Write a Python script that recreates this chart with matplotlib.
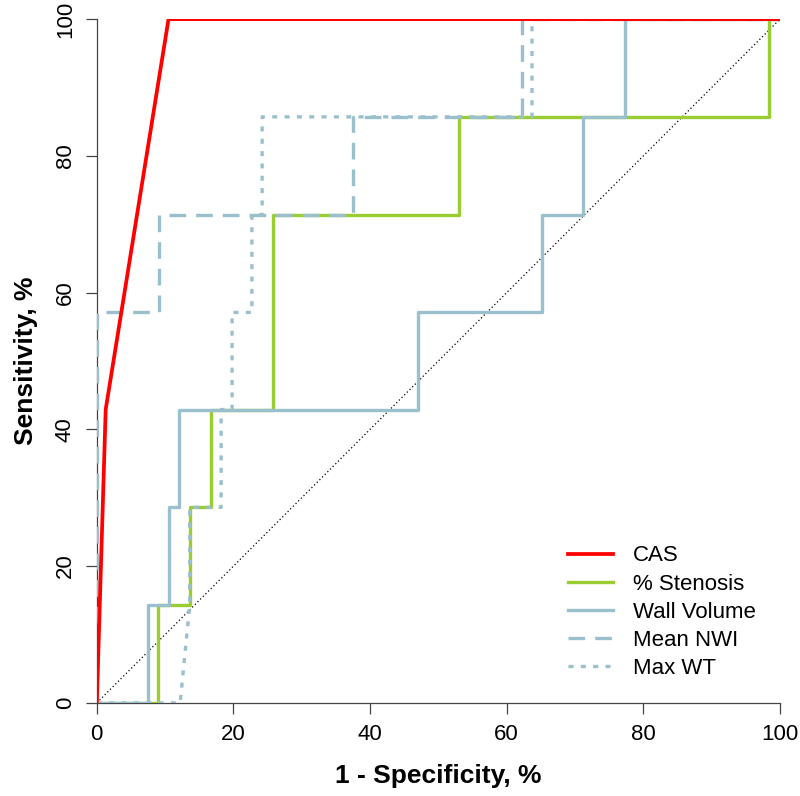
import matplotlib
matplotlib.use("Agg")
import matplotlib.pyplot as plt

plt.rcParams["font.family"] = ["Liberation Sans", "DejaVu Sans"]

RED = "#ff0000"
GREEN = "#9acd32"
BLUE = "#9ac0cd"

# ROC points, (1 - specificity, sensitivity) in %
cas_x = [0, 1.3, 10.5, 100]
cas_y = [0, 42.9, 100, 100]

sten_x = [0, 8.9, 8.9, 13.6, 13.6, 16.7, 16.7, 25.8, 25.8, 53.0, 53.0, 98.4, 98.4, 100]
sten_y = [0, 0, 14.3, 14.3, 28.6, 28.6, 42.9, 42.9, 71.4, 71.4, 85.7, 85.7, 100, 100]

wall_x = [0, 7.5, 7.5, 10.6, 10.6, 12.0, 12.0, 47.0, 47.0, 65.2, 65.2, 71.2, 71.2, 77.3, 77.3, 100]
wall_y = [0, 0, 14.3, 14.3, 28.6, 28.6, 42.9, 42.9, 57.1, 57.1, 71.4, 71.4, 85.7, 85.7, 100, 100]

nwi_x = [0, 0, 9.1, 9.1, 37.5, 37.5, 62.2, 62.2, 100]
nwi_y = [0, 57.1, 57.1, 71.4, 71.4, 85.7, 85.7, 100, 100]

wt_x = [0, 12.2, 13.6, 13.6, 18.2, 18.2, 19.8, 19.8, 22.7, 22.7, 24.2, 24.2, 63.7, 63.7, 100]
wt_y = [0, 0, 14.3, 28.6, 28.6, 42.9, 42.9, 57.1, 57.1, 71.4, 71.4, 85.7, 85.7, 100, 100]

ticks = [0, 20, 40, 60, 80, 100]

fig = plt.figure(figsize=(8, 7.96), dpi=100)
ax = fig.add_axes([0.121, 0.117, 0.854, 0.859])

ax.plot([0, 100], [0, 100], color="black", linestyle=(0, (1, 2)), linewidth=0.9, zorder=1)
ax.plot(sten_x, sten_y, color=GREEN, linewidth=2.4, label="% Stenosis", zorder=3)
ax.plot(wall_x, wall_y, color=BLUE, linewidth=2.4, label="Wall Volume", zorder=3)
ax.plot(nwi_x, nwi_y, color=BLUE, linewidth=2.4, linestyle=(0, (5, 3)), label="Mean NWI", zorder=4)
ax.plot(wt_x, wt_y, color=BLUE, linewidth=2.4, linestyle=(0, (1.5, 2.2)), label="Max WT", zorder=4)
ax.plot(cas_x, cas_y, color=RED, linewidth=2.7, label="CAS", zorder=5)

ax.set_xlim(0, 100)
ax.set_ylim(0, 100)
ax.set_xticks(ticks)
ax.set_yticks(ticks)
ax.tick_params(axis="both", labelsize=16, length=8, width=0.9, color="#444444", pad=7)
for lab in ax.get_yticklabels():
    lab.set_rotation(90)
    lab.set_va("center")
for side in ["top", "right"]:
    ax.spines[side].set_visible(False)
for side in ["left", "bottom"]:
    ax.spines[side].set_color("#444444")
    ax.spines[side].set_linewidth(0.9)

ax.set_xlabel("1 - Specificity, %", fontsize=19, fontweight="bold", labelpad=14)
ax.set_ylabel("Sensitivity, %", fontsize=19, fontweight="bold", labelpad=12)

handles, labels = ax.get_legend_handles_labels()
order = [4, 0, 1, 2, 3]
leg = ax.legend([handles[i] for i in order], [labels[i] for i in order],
                loc="lower left", bbox_to_anchor=(0.690, 0.035), frameon=False,
                borderpad=0, borderaxespad=0,
                fontsize=16, handlelength=2.0, labelspacing=0.32, handletextpad=0.9)

fig.savefig("out.png", dpi=100)
